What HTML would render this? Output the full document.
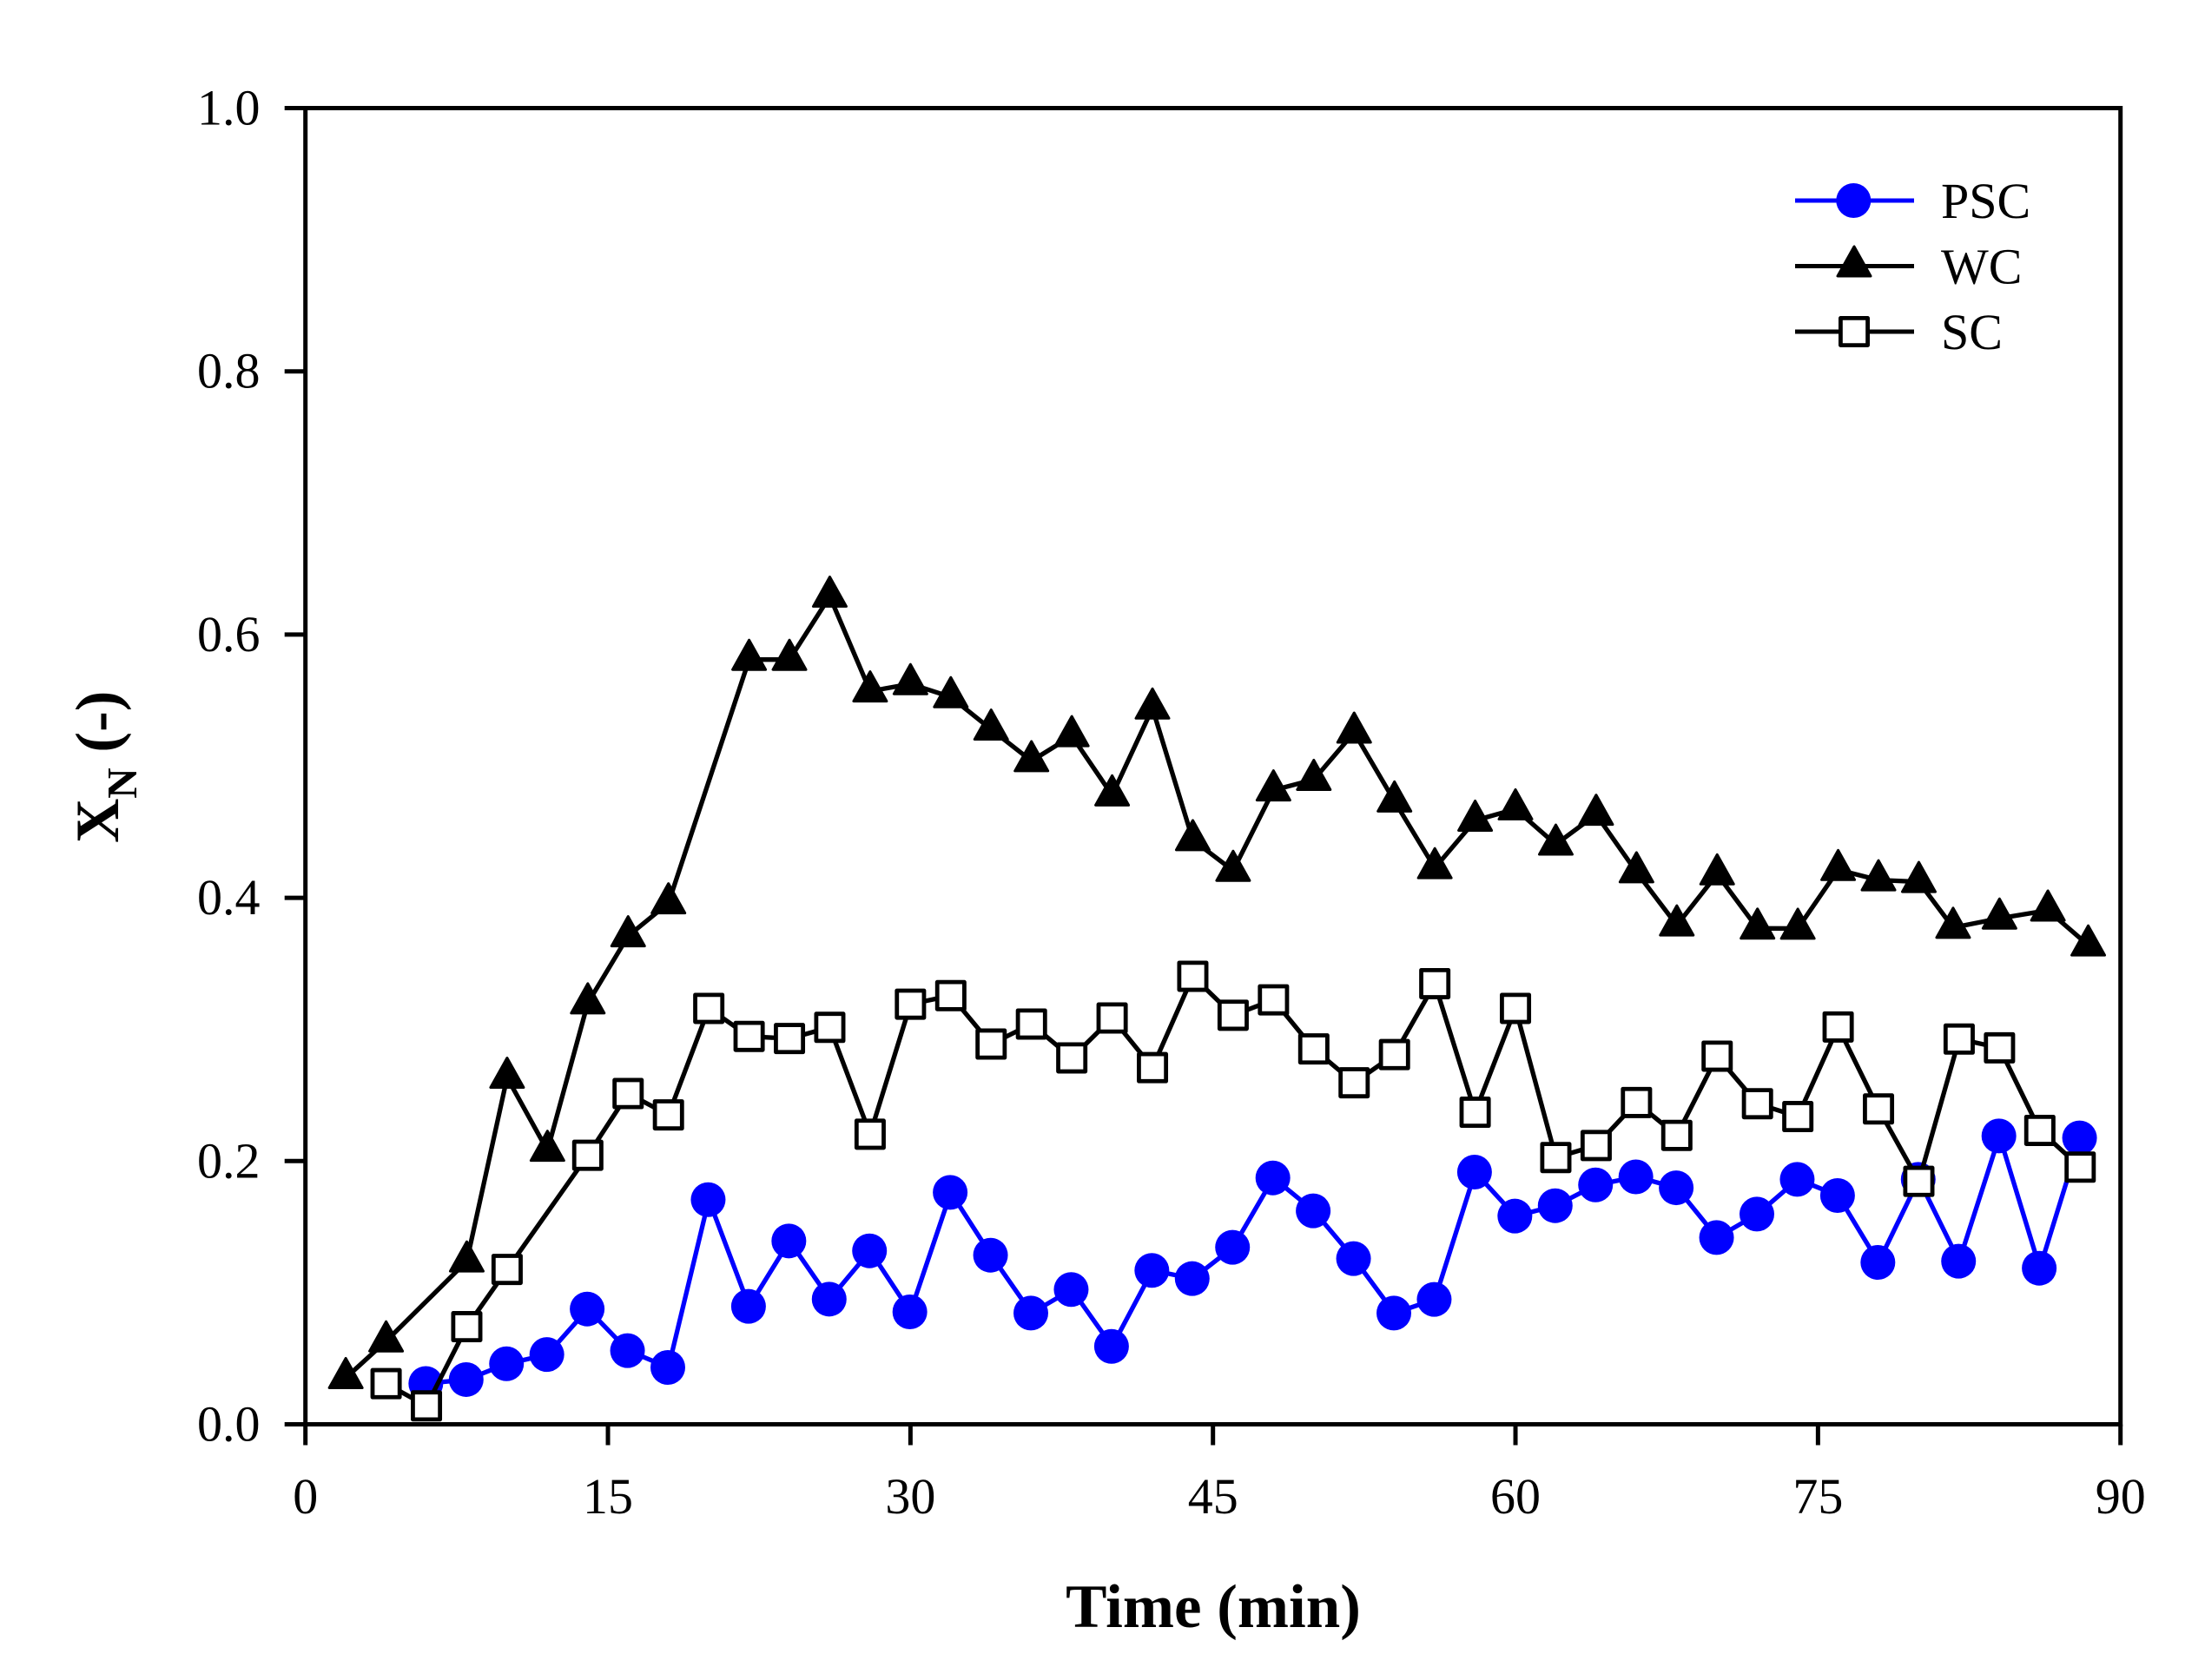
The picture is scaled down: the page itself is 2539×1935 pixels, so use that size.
<!DOCTYPE html>
<html>
<head>
<meta charset="utf-8">
<title>XN vs Time</title>
<style>
html,body{margin:0;padding:0;background:#fff;}
svg{display:block;}
text{font-family:"Liberation Serif",serif;fill:#000;}
</style>
</head>
<body>
<svg id="chart" xmlns="http://www.w3.org/2000/svg" width="2539" height="1935" viewBox="0 0 2539 1935">
<rect x="0" y="0" width="2539" height="1935" fill="#fff"/>
<g id="marks"></g>
<rect x="351.7" y="124.5" width="2090" height="1516" fill="none" stroke="#000" stroke-width="5"/>
<g id="axes"></g>
<text x="1397" y="1874" text-anchor="middle" font-size="71" font-weight="bold">Time (min)</text>
<text transform="translate(136,971) rotate(-90)" font-size="71" font-weight="bold">X<tspan font-size="49" dy="21">N</tspan><tspan dy="-21"> (-)</tspan></text>
<g id="legend"></g>
</svg>
<script>
const xTickLabels = ['0','15','30','45','60','75','90'];
const yTickLabels = ['0.0','0.2','0.4','0.6','0.8','1.0'];
const pscTimes = [6,8,10,12,14,16,18,20,22,24,26,28,30,32,34,36,38,40,42,44,46,48,50,52,54,56,58,60,62,64,66,68,70,72,74,76,78,80,82,84,86,88];
const pscValues = [0.031,0.034,0.046,0.053,0.0876,0.056,0.0432,0.1707,0.0896,0.1393,0.0951,0.1318,0.0854,0.1762,0.1285,0.0845,0.1024,0.0592,0.1169,0.1107,0.1345,0.1872,0.1622,0.1259,0.0845,0.0949,0.1916,0.1582,0.1661,0.1819,0.188,0.1797,0.1419,0.1597,0.1861,0.1738,0.123,0.1861,0.1239,0.2191,0.1186,0.2176];
const wcTimes = [2,4,8,10,12,14,16,18,22,24,26,28,30,32,34,36,38,40,42,44,46,48,50,52,54,56,58,60,62,64,66,68,70,72,74,76,78,80,81.7,84,86.4,88.4];
const wcValues = [0.0353,0.0632,0.1239,0.2635,0.208,0.32,0.371,0.396,0.581,0.581,0.629,0.557,0.5625,0.5526,0.528,0.504,0.523,0.478,0.544,0.444,0.4207,0.4818,0.4898,0.5257,0.4734,0.4227,0.4588,0.4674,0.4406,0.4633,0.4196,0.3792,0.418,0.3768,0.3767,0.4213,0.4135,0.4122,0.3774,0.3844,0.3905,0.364];
const scTimes = [4,6,8,10,14,16,18,20,22,24,26,28,30,32,34,36,38,40,42,44,46,48,50,52,54,56,58,60,62,64,66,68,70,72,74,76,78,80,82,84,86,88];
const scValues = [0.0309,0.014,0.0742,0.1177,0.2044,0.2513,0.2351,0.316,0.2947,0.2931,0.3016,0.2204,0.3192,0.3257,0.2889,0.3041,0.2784,0.3087,0.271,0.3404,0.3108,0.3225,0.2852,0.2595,0.2809,0.3348,0.2371,0.316,0.2027,0.2118,0.2445,0.2195,0.2797,0.2436,0.2338,0.3019,0.2396,0.1846,0.2927,0.286,0.2233,0.1954];

const NS = 'http://www.w3.org/2000/svg';
const X0 = 351.7, X1 = 2441.7, Y0 = 1640.5, Y1 = 124.5;
const xScale = v => X0 + (v / 90) * (X1 - X0);
const yScale = v => Y0 - v * (Y0 - Y1);

function make(tag, attrs, parent) {
  const el = document.createElementNS(NS, tag);
  for (const k in attrs) el.setAttribute(k, attrs[k]);
  parent.appendChild(el);
  return el;
}
function circleMark(cx, cy, parent) {
  return make('circle', {cx: cx - 0.7, cy: cy, r: 20, fill: '#0000ff'}, parent);
}
function triangleMark(cx, cy, parent) {
  const p = [[cx, cy - 22.5], [cx - 19, cy + 11.5], [cx + 19, cy + 11.5]].map(q => q.join(',')).join(' ');
  return make('polygon', {points: p, fill: '#000', stroke: '#000', 'stroke-width': 3, 'stroke-linejoin': 'round'}, parent);
}
function squareMark(cx, cy, parent) {
  return make('rect', {x: cx - 15.6, y: cy - 15.6, width: 31.2, height: 31.2, fill: '#fff', stroke: '#000', 'stroke-width': 4.8, 'stroke-linejoin': 'round'}, parent);
}
function drawSeries(name, times, values, color, marker) {
  const marks = document.getElementById('marks');
  const g = make('g', {}, marks);
  
  
  const pts = times.map((t, i) => xScale(t) + ',' + yScale(values[i])).join(' ');
  const line = make('polyline', {points: pts, fill: 'none', stroke: color, 'stroke-width': 5.3, 'stroke-linejoin': 'round'}, g);
  
  
  times.forEach((t, i) => {
    const m = marker(xScale(t), yScale(values[i]), g);
    
    
  });
}
drawSeries('psc', pscTimes, pscValues, '#0000ff', circleMark);
drawSeries('wc', wcTimes, wcValues, '#000', triangleMark);
drawSeries('sc', scTimes, scValues, '#000', squareMark);

const axes = document.getElementById('axes');
xTickLabels.forEach(label => {
  const x = xScale(Number(label));
  const tick = make('line', {x1: x, x2: x, y1: Y0, y2: Y0 + 24, stroke: '#000', 'stroke-width': 5}, axes);
  
  
  const txt = make('text', {x: x, y: 1743, 'text-anchor': 'middle', 'font-size': 58}, axes);
  txt.textContent = label;
  
  
});
yTickLabels.forEach(label => {
  const y = yScale(Number(label));
  const tick = make('line', {x1: X0 - 24, x2: X0, y1: y, y2: y, stroke: '#000', 'stroke-width': 5}, axes);
  
  
  const txt = make('text', {x: 299.5, y: y + 19, 'text-anchor': 'end', 'font-size': 58}, axes);
  txt.textContent = label;
  
  
});

const legendNames = ['PSC', 'WC', 'SC'];
const legendColors = ['#0000ff', '#000', '#000'];
const legendMarkers = [circleMark, triangleMark, squareMark];
const legendRows = [231, 306.5, 382];
const legend = document.getElementById('legend');
legendNames.forEach((n, i) => {
  const y = legendRows[i];
  const g = make('g', {}, legend);
  
  
  const l = make('line', {x1: 2067, x2: 2204, y1: y, y2: y, stroke: legendColors[i], 'stroke-width': 5}, g);
  
  
  const m = legendMarkers[i](2135, y, g);
  
  
  const t = make('text', {x: 2235, y: y + 20, 'font-size': 58}, g);
  t.textContent = n;
  
  
});
</script>
</body>
</html>
